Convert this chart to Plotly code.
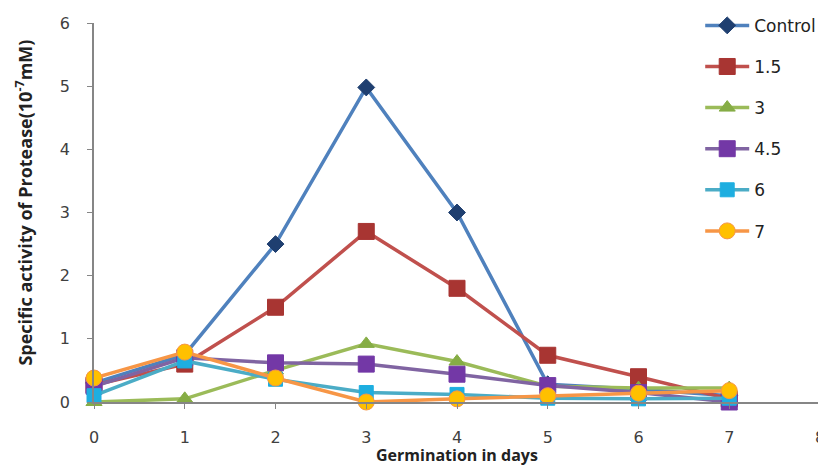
import plotly.graph_objects as go

days = [0, 1, 2, 3, 4, 5, 6, 7]
control = [0.30, 0.75, 2.50, 4.98, 3.00, 0.28, 0.20, 0.10]
c1_5 = [0.27, 0.60, 1.50, 2.70, 1.80, 0.74, 0.40, 0.05]
c3 = [0.00, 0.05, 0.50, 0.92, 0.64, 0.25, 0.22, 0.22]
c4_5 = [0.25, 0.70, 0.62, 0.60, 0.44, 0.26, 0.15, 0.00]
c6 = [0.10, 0.65, 0.36, 0.15, 0.12, 0.06, 0.05, 0.06]
c7 = [0.38, 0.79, 0.38, 0.00, 0.05, 0.10, 0.14, 0.18]

names = ["Control", "1.5", "3", "4.5", "6", "7"]
series = [control, c1_5, c3, c4_5, c6, c7]
line_colors = ["#4F81BD", "#C0504D", "#9BBB59", "#8064A2", "#4BACC6", "#F79646"]
marker_fill = ["#1F3F70", "#A83532", "#86AD45", "#7338A6", "#1EAEE0", "#FFC000"]
marker_line = ["#1F3F70", "#A83532", "#86AD45", "#7338A6", "#1EAEE0", "#F79646"]
symbols = ["diamond", "square", "triangle-up", "square", "square", "circle"]
sizes = [13, 16, 14, 16, 14, 16]

fig = go.Figure()
for i in range(len(names)):
    fig.add_trace(go.Scatter(
        x=days, y=series[i], name=names[i], mode="lines+markers",
        legendgroup=names[i],
        line=dict(color=line_colors[i], width=3.5),
        marker=dict(symbol=symbols[i], size=sizes[i], color=marker_fill[i],
                    line=dict(color=marker_line[i], width=1)),
    ))

tick_font = "DejaVu Sans"
title_font = "Open Sans"
fig.update_layout(
    width=826, height=466,
    margin=dict(l=86, r=14, t=15, b=72, autoexpand=False),
    plot_bgcolor="white", paper_bgcolor="white",
    font=dict(family=tick_font, size=16, color="#404040"),
    showlegend=True,
    legend=dict(x=0.835, y=1.04, xanchor="left", yanchor="top",
                bgcolor="rgba(0,0,0,0)", tracegroupgap=16, itemwidth=44,
                maxheight=1.0,
                font=dict(family=tick_font, size=17, color="#222222")),
    xaxis=dict(range=[0, 8], tickvals=[0, 1, 2, 3, 4, 5, 6, 7, 8],
               showline=True, linecolor="#868686", linewidth=1.5,
               ticks="outside", ticklen=5, tickcolor="#868686",
               showgrid=False, zeroline=False, ticklabelstandoff=15,
               automargin=False),
    yaxis=dict(range=[0, 6], tickvals=[0, 1, 2, 3, 4, 5, 6],
               showline=True, linecolor="#868686", linewidth=1.5,
               ticks="outside", ticklen=5, tickcolor="#868686",
               showgrid=False, zeroline=False, ticklabelstandoff=14,
               automargin=False),
    annotations=[
        dict(text="<b>Germination in days</b>", xref="paper", yref="paper",
             x=0.5, y=-0.14, xanchor="center", yanchor="middle", showarrow=False,
             font=dict(family=title_font, size=16, color="#222222")),
        dict(text="<b>Specific activity of Protease(10<sup>-7</sup>mM)</b>",
             xref="paper", yref="paper", x=-0.096, y=0.527, textangle=-90,
             xanchor="center", yanchor="middle", showarrow=False,
             font=dict(family=title_font, size=18, color="#222222")),
    ],
)
fig.update_traces(cliponaxis=False)
fig.write_html("out.html")
